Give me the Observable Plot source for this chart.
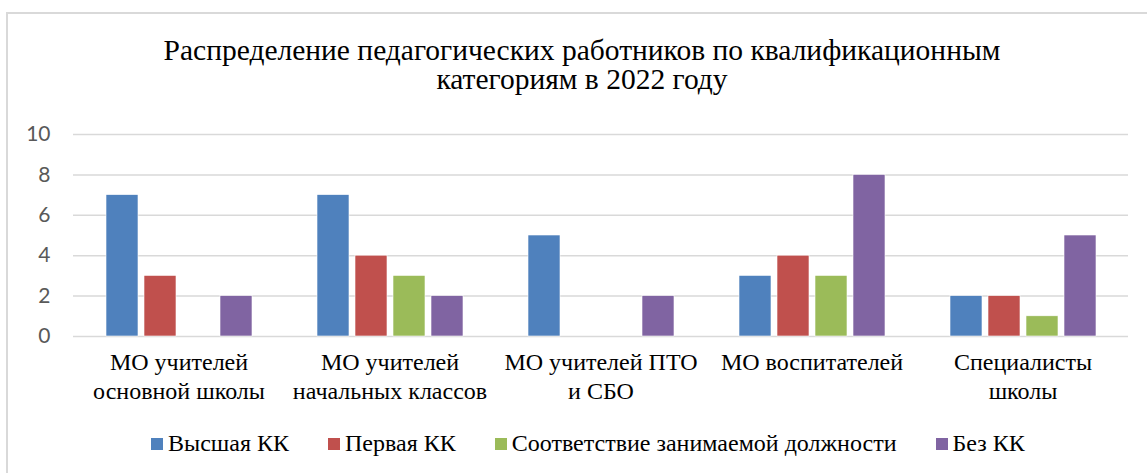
<!DOCTYPE html>
<html><head><meta charset="utf-8">
<script src="https://cdn.jsdelivr.net/npm/d3@7"></script>
<script src="https://cdn.jsdelivr.net/npm/@observablehq/plot@0.6"></script>
<style>
body{margin:0;background:#fff;overflow:hidden;}
#wrap{position:relative;width:1147px;height:473px;}
#frame{position:absolute;left:6px;top:12px;width:1200px;height:600px;border-left:2px solid #d9d9d9;border-top:2px solid #d9d9d9;}
#title{position:absolute;left:0;width:1164px;top:36px;text-align:center;font-family:"Liberation Serif","Times New Roman",serif;font-size:29.5px;line-height:29px;color:#000;}
#chart{position:absolute;left:0;top:0;}
#legend{position:absolute;left:151px;top:430px;display:flex;gap:39px;font-family:"Liberation Serif","Times New Roman",serif;font-size:24px;color:#000;white-space:nowrap;}
#legend .it{display:flex;align-items:center;gap:5px;}
#legend .sw{width:12px;height:12px;display:inline-block;}
</style></head>
<body><div id="wrap"><div id="frame"></div><div id="chart"></div>
<div id="title">Распределение педагогических работников по квалификационным<br>категориям в 2022 году</div>
<div id="legend"></div></div>
<script>
const categories = ["МО учителей\nосновной школы","МО учителей\nначальных классов","МО учителей ПТО\nи СБО","МО воспитателей","Специалисты\nшколы"];
const series = ["Высшая КК","Первая КК","Соответствие занимаемой должности","Без КК"];
const colors = ["#4F81BD","#C0504D","#9BBB59","#8064A2"];
const vHigh = [7,7,5,3,2];
const vFirst = [3,4,0,4,2];
const vMatch = [0,3,0,3,1];
const vNone = [2,2,2,8,5];
const yTicks = [0,2,4,6,8,10];

const seriesValues = [vHigh, vFirst, vMatch, vNone];
const data = [];
categories.forEach((c, i) => series.forEach((s, j) => data.push({cat: c, series: s, value: seriesValues[j][i]})));

const chart = Plot.plot({
  width: 1147, height: 473,
  marginTop: 134, marginBottom: 137, marginLeft: 71, marginRight: 18,
  style: {background: "transparent"},
  fx: {domain: categories, padding: 0},
  x: {domain: series, paddingInner: 0.17, paddingOuter: 0.84, axis: null},
  y: {domain: [0, 10]},
  color: {domain: series, range: colors},
  marks: [
    Plot.gridY(yTicks, {stroke: "#d9d9d9", strokeOpacity: 1, strokeWidth: 1.5}),
    Plot.barY(data.filter(d => d.value > 0), {fx: "cat", x: "series", y: "value", fill: "series", stroke: "#fff", strokeWidth: 0.6}),
    Plot.axisY(yTicks, {tickSize: 0, tickPadding: 23, fontSize: 21, fontFamily: "Lato, 'Open Sans', sans-serif", fill: "#595959", label: null}),
    Plot.axisFx({anchor: "bottom", tickSize: 0, tickPadding: 13, fontSize: 24, lineHeight: 1.21, fontFamily: "'Liberation Serif','Times New Roman',serif", fill: "#000", label: null})
  ]
});
document.getElementById("chart").appendChild(chart);

const lg = document.getElementById("legend");
series.forEach((s, j) => {
  const it = document.createElement("span"); it.className = "it";
  const sw = document.createElement("span"); sw.className = "sw"; sw.style.background = colors[j];
  const t = document.createElement("span"); t.textContent = s;
  it.appendChild(sw); it.appendChild(t); lg.appendChild(it);
});
</script></body></html>
